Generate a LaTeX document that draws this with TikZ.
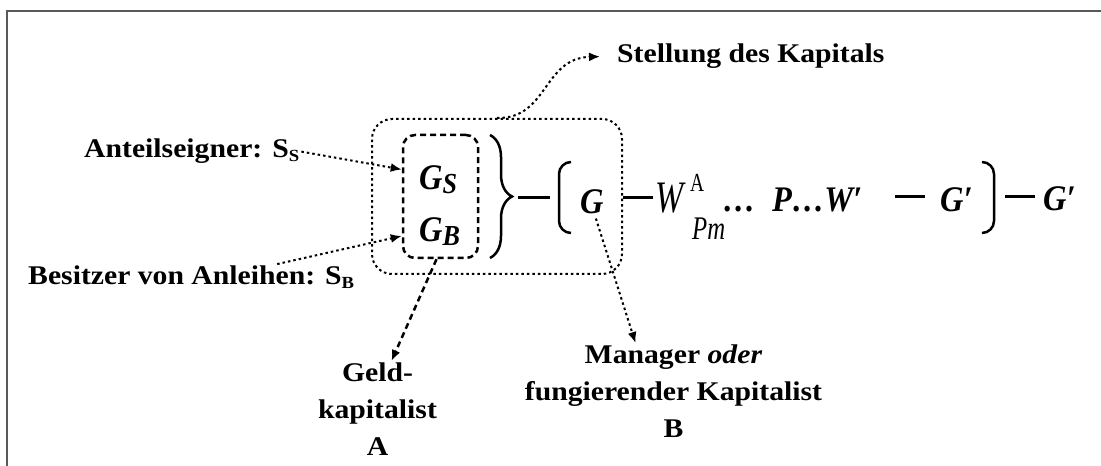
\documentclass[tikz,border=0pt]{standalone}
\usepackage{fontspec}
\setmainfont{Liberation Serif}[FakeStretch=1.1]
\newfontfamily\frmfam{Liberation Serif}[FakeStretch=0.9]
\newfontfamily\wfont{Liberation Serif}[FakeStretch=0.75]
\usetikzlibrary{arrows.meta,decorations.pathreplacing,positioning}

\newcommand{\lblfont}{\fontsize{27}{37}\selectfont\bfseries}
\newcommand{\frmfont}{\frmfam\fontsize{36}{40}\selectfont\bfseries\itshape}
\newcommand{\lsub}[1]{\raisebox{-4pt}{\fontsize{17}{17}\selectfont #1}}
\newcommand{\fsub}[1]{\raisebox{-4pt}{\fontsize{29}{29}\selectfont #1}}

\begin{document}
\begin{tikzpicture}[x=1pt, y=1pt,
                lbl/.style={font=\lblfont, inner sep=2pt},
                frm/.style={font=\frmfont, inner sep=0pt, anchor=base west},
                wsym/.style={inner sep=0pt, anchor=base west},
                dotline/.style={line width=2pt, dash pattern=on 2.5pt off 3pt},
                dashline/.style={line width=2.5pt, dash pattern=on 6pt off 4pt},
                dotarr/.style={dotline, -{Latex[length=11pt,width=9pt]}},
                dasharr/.style={dashline, -{Latex[length=11pt,width=9pt]}},
                bar/.style={line width=3pt},
                bracket/.style={line width=2.5pt, rounded corners=12pt}
            ]
                \useasboundingbox (0,0) rectangle (1101,466);
                \clip (0,0) rectangle (1101,466);
                \draw[black!65, line width=2pt] (7,-10) |- (1110,455);

                % Geldkapital
                \node[draw, dotline, rounded corners=20pt,
                      minimum width=250pt, minimum height=155pt] (outer) at (497,269.5) {};
                \node[draw, dashline, rounded corners=12pt,
                      minimum width=75pt, minimum height=123pt] (inner) at (440.5,269.5) {};
                \node[frm] (gS) at (419,276) {G\fsub{S}};
                \node[frm] (gB) at (419,224) {G\fsub{B}};

                % Kreislauf
                \draw[line width=2.5pt, decorate, decoration={brace, amplitude=22pt}] (490,331) -- (490,208);
                \draw[bar] (518,268) -- (550,268);
                \draw[bracket] (571,304) -| (559,268) |- (571,233);
                \node[frm] (g0) at (580,252) {G};
                \draw[bar] (623,268) -- (653,268);
                \node[wsym, font=\wfont\fontsize{45}{50}\selectfont\itshape] (w) at (655,253) {W};
                \node[wsym, font=\wfont\fontsize{26}{26}\selectfont] (wA) at (690,274) {A};
                \node[wsym, font=\wfont\fontsize{33}{33}\selectfont\itshape] (wPm) at (692,226) {Pm};
                \node[frm] (dots) at (723,254) {…};
                \node[frm] (pw) at (772,254) {P…W′};
                \draw[bar] (895,269) -- (925,269);
                \node[frm] (g1) at (940,254) {G′};
                \draw[bracket] (982,304) -| (994,268) |- (982,233);
                \draw[bar] (1005,269) -- (1035,269);
                \node[frm] (g2) at (1043,255) {G′};

                % Beschriftungen
                \node[lbl, anchor=base west] (stellung) at (615,403) {Stellung des Kapitals};
                \node[lbl, anchor=base west] (anteil) at (82,308) {Anteilseigner: S\lsub{S}};
                \node[lbl, anchor=base west] (besitz) at (26,181) {Besitzer von Anleihen: S\lsub{B}};
                \node[lbl, align=center, anchor=north] (geld) at (377.5,105) {Geld-\\kapitalist\\A};
                \node[lbl, align=center, anchor=north] (manager) at (673.5,123)
                    {Manager \textit{oder}\\fungierender Kapitalist\\B};

                \draw[dotarr] (outer.north) .. controls (548,347) and (543,408) .. ([xshift=-15pt]stellung.west);
                \draw[dotarr] (anteil.east) -- ([yshift=27pt]inner.west);
                \draw[dotarr] ([xshift=86pt]besitz.north) -- ([yshift=-39.5pt]inner.west);
                \draw[dasharr] ([xshift=-4pt]inner.south) -- ([xshift=14pt]geld.north);
                \draw[dotarr] ([xshift=4pt,yshift=-4pt]g0.south) -- ([xshift=-38pt]manager.north);
            \end{tikzpicture}
\end{document}
